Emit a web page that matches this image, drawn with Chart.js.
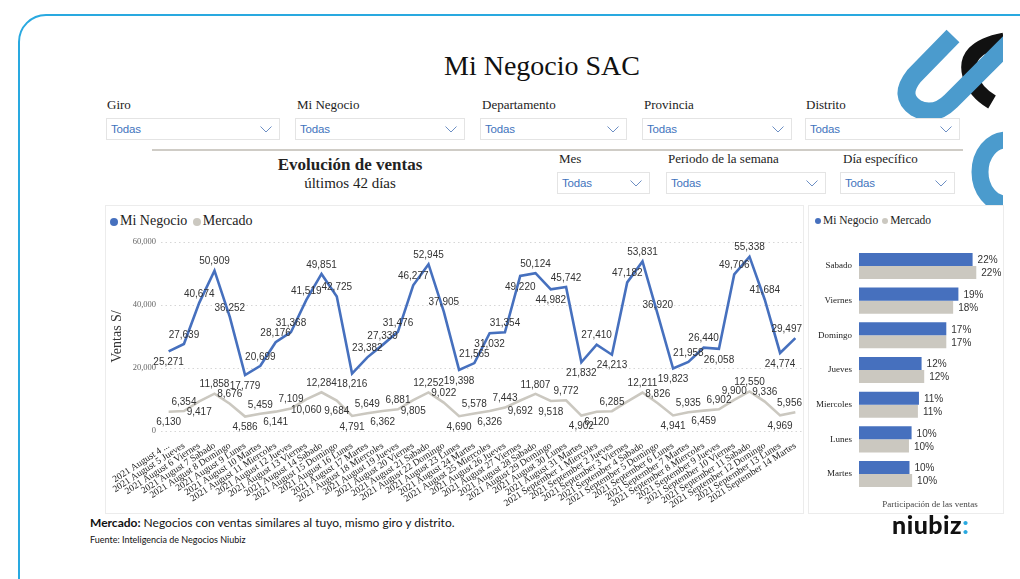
<!DOCTYPE html>
<html>
<head>
<meta charset="utf-8">
<script src="https://cdn.jsdelivr.net/npm/chart.js@4.4.0/dist/chart.umd.min.js"></script>
<style>
  html,body{margin:0;padding:0;background:#fff;}
  body{width:1020px;height:579px;position:relative;overflow:hidden;font-family:"Liberation Serif",serif;color:#222;}
  .frame{position:absolute;left:18px;top:14px;width:1100px;height:600px;border:2.5px solid #29a9e0;border-radius:28px;box-sizing:border-box;}
  .abs{position:absolute;white-space:nowrap;}
  .lbl{font-family:"Liberation Serif",serif;font-size:13px;color:#222;}
  .box{position:absolute;height:22px;border:1px solid #e4e4e4;box-sizing:border-box;background:#fff;}
  .box span{position:absolute;left:4px;top:4px;font-family:"Liberation Sans",sans-serif;font-size:11.5px;color:#3f74bd;letter-spacing:-0.2px;}
  .box svg{position:absolute;right:7px;top:7px;}
  .panel{position:absolute;border:1px solid #ececec;box-sizing:border-box;background:#fff;}
  .leg{font-family:"Liberation Serif",serif;color:#222;}
  .dot{display:inline-block;border-radius:50%;vertical-align:middle;}
</style>
</head>
<body>
<div class="frame"></div>

<svg class="abs" style="left:880px;top:20px;" width="123" height="200" viewBox="880 20 123 200">
  <path d="M 1004 40 Q 962 48 970 76 Q 975 92 992 102" fill="none" stroke="#111" stroke-width="15"/>
  <path d="M 953 36 L 914 76 Q 898 96 916 108 Q 934 118 951 101 L 1012 40" fill="none" stroke="#4b9bcd" stroke-width="18"/>
  <path d="M 1006 140 A 26 32 0 0 0 1006 204" fill="none" stroke="#4b9bcd" stroke-width="17"/>
</svg>

<div class="abs" style="left:0;width:1084px;top:50px;text-align:center;font-size:28px;font-family:'Liberation Serif',serif;color:#111;">Mi Negocio SAC</div>

<div class="abs lbl" style="left:107px;top:97px;">Giro</div>
<div class="abs lbl" style="left:297px;top:97px;">Mi Negocio</div>
<div class="abs lbl" style="left:482px;top:97px;">Departamento</div>
<div class="abs lbl" style="left:644px;top:97px;">Provincia</div>
<div class="abs lbl" style="left:806px;top:97px;">Distrito</div>

<div class="box" style="left:106px;top:118px;width:174px;"><span>Todas</span><svg width="12" height="7"><polyline points="0.5,0.5 6,6 11.5,0.5" fill="none" stroke="#6d8fc4" stroke-width="1"/></svg></div>
<div class="box" style="left:295px;top:118px;width:170px;"><span>Todas</span><svg width="12" height="7"><polyline points="0.5,0.5 6,6 11.5,0.5" fill="none" stroke="#6d8fc4" stroke-width="1"/></svg></div>
<div class="box" style="left:480px;top:118px;width:147px;"><span>Todas</span><svg width="12" height="7"><polyline points="0.5,0.5 6,6 11.5,0.5" fill="none" stroke="#6d8fc4" stroke-width="1"/></svg></div>
<div class="box" style="left:642px;top:118px;width:150px;"><span>Todas</span><svg width="12" height="7"><polyline points="0.5,0.5 6,6 11.5,0.5" fill="none" stroke="#6d8fc4" stroke-width="1"/></svg></div>
<div class="box" style="left:805px;top:118px;width:155px;"><span>Todas</span><svg width="12" height="7"><polyline points="0.5,0.5 6,6 11.5,0.5" fill="none" stroke="#6d8fc4" stroke-width="1"/></svg></div>

<div class="abs" style="left:152px;top:149px;width:811px;height:2px;background:#cfccc6;"></div>

<div class="abs" style="left:200px;width:300px;top:155px;text-align:center;font-size:17px;font-weight:bold;">Evolución de ventas</div>
<div class="abs" style="left:200px;width:300px;top:175px;text-align:center;font-size:15px;">últimos 42 días</div>

<div class="abs lbl" style="left:559px;top:151px;">Mes</div>
<div class="abs lbl" style="left:668px;top:151px;">Periodo de la semana</div>
<div class="abs lbl" style="left:843px;top:151px;">Día específico</div>

<div class="box" style="left:557px;top:172px;width:93px;"><span>Todas</span><svg width="12" height="7"><polyline points="0.5,0.5 6,6 11.5,0.5" fill="none" stroke="#6d8fc4" stroke-width="1"/></svg></div>
<div class="box" style="left:666px;top:172px;width:160px;"><span>Todas</span><svg width="12" height="7"><polyline points="0.5,0.5 6,6 11.5,0.5" fill="none" stroke="#6d8fc4" stroke-width="1"/></svg></div>
<div class="box" style="left:840px;top:172px;width:115px;"><span>Todas</span><svg width="12" height="7"><polyline points="0.5,0.5 6,6 11.5,0.5" fill="none" stroke="#6d8fc4" stroke-width="1"/></svg></div>

<div class="panel" style="left:105px;top:205px;width:699px;height:309px;"></div>
<div class="panel" style="left:808px;top:205px;width:196px;height:309px;"></div>

<div class="abs leg" style="left:110px;top:213px;font-size:14px;"><span class="dot" style="width:8px;height:8px;background:#4670be;margin-right:2px;"></span>Mi Negocio <span class="dot" style="width:8px;height:8px;background:#cbc8c0;margin:0 2px 0 2px;"></span>Mercado</div>
<div class="abs leg" style="left:815px;top:214px;font-size:11.5px;"><span class="dot" style="width:6px;height:6px;background:#4670be;margin-right:2px;"></span>Mi Negocio <span class="dot" style="width:6px;height:6px;background:#cbc8c0;margin:0 2px 0 1px;"></span>Mercado</div>

<canvas id="line" class="abs" style="left:105px;top:205px;" width="700" height="308"></canvas>
<canvas id="bar" class="abs" style="left:808px;top:205px;" width="195" height="308"></canvas>

<div class="abs" style="left:90px;top:515px;font-family:Lato,'Open Sans',sans-serif;font-size:12px;color:#111;"><b>Mercado:</b> Negocios con ventas similares al tuyo, mismo giro y distrito.</div>
<div class="abs" style="left:90px;top:534px;font-family:Lato,'Open Sans',sans-serif;font-size:9px;color:#111;">Fuente: Inteligencia de Negocios Niubiz</div>
<div class="abs" style="left:892px;top:509px;font-family:Lato,'DejaVu Sans',sans-serif;font-weight:900;font-size:25px;color:#111;letter-spacing:0.5px;">niubiz<span style="color:#29a9e0;">:</span></div>

<script>
// ---- Data ----
const days = [
  "2021 August 4 ...", "2021 August 5 Jueves", "2021 August 6 Viernes", "2021 August 7 Sabado",
  "2021 August 8 Domingo", "2021 August 9 Lunes", "2021 August 10 Martes", "2021 August 11 Miercoles",
  "2021 August 12 Jueves", "2021 August 13 Viernes", "2021 August 14 Sabado", "2021 August 15 Domingo",
  "2021 August 16 Lunes", "2021 August 17 Martes", "2021 August 18 Miercoles", "2021 August 19 Jueves",
  "2021 August 20 Viernes", "2021 August 21 Sabado", "2021 August 22 Domingo", "2021 August 23 Lunes",
  "2021 August 24 Martes", "2021 August 25 Miercoles", "2021 August 26 Jueves", "2021 August 27 Viernes",
  "2021 August 28 Sabado", "2021 August 29 Domingo", "2021 August 30 Lunes", "2021 August 31 Martes",
  "2021 September 1 Miercoles", "2021 September 2 Jueves", "2021 September 3 Viernes", "2021 September 4 Sabado",
  "2021 September 5 Domingo", "2021 September 6 Lunes", "2021 September 7 Martes", "2021 September 8 Miercoles",
  "2021 September 9 Jueves", "2021 September 10 Viernes", "2021 September 11 Sabado", "2021 September 12 Domingo",
  "2021 September 13 Lunes", "2021 September 14 Martes"
];
const miNegocio = [
  25271, 27639, 40674, 50909, 36252, 17779, 20699, 28176, 31368, 41519, 49851, 42725,
  18216, 23382, 27339, 31476, 46277, 52945, 37905, 19398, 21565, 31032, 31354, 49220,
  50124, 44982, 45742, 21832, 27410, 24213, 47182, 53831, 36920, 19823, 21958, 26440,
  26058, 49706, 55338, 41684, 24774, 29497
];
const mercado = [
  6130, 6354, 9417, 11858, 8676, 4586, 5459, 6141, 7109, 10060, 12284, 9684,
  4791, 5649, 6362, 6881, 9805, 12252, 9022, 4690, 5578, 6326, 7443, 9692,
  11807, 9518, 9772, 4902, 6120, 6285, 9300, 12211, 8826, 4941, 5935, 6459,
  6902, 9900, 12550, 9336, 4969, 5956
];
// label side per point: a = above, b = below, n = hidden
const miLabelSide = ["baaaab", "aaaaaa", "baaaaaa", "babababab", "abaaa", "baabaaaba"].join('');
const mercadoLabelSide = ["babaababab", "abbababaab", "ababababba", "naababaaaaba"].join('');
const yTicks = [0, 20000, 40000, 60000];

const weekdays = ["Sabado", "Viernes", "Domingo", "Jueves", "Miercoles", "Lunes", "Martes"];
const shareMi = [21.6, 18.9, 16.6, 11.9, 11.4, 10.0, 9.6];
const shareMercado = [22.3, 17.9, 16.6, 12.4, 11.2, 9.5, 10.1];

// ---- Helpers ----
const fmt = v => String(v).replace(/\B(?=(\d{3})+(?!\d))/g, ',');
const BLUE = '#4670be', GRAY = '#cbc8c0';

const lineLabels = {
  id: 'lineLabels',
  afterDatasetsDraw(chart) {
    const ctx = chart.ctx;
    const sides = [miLabelSide, mercadoLabelSide];
    ctx.save();
    ctx.font = '10px "Liberation Sans", sans-serif';
    ctx.fillStyle = '#333';
    ctx.textAlign = 'center';
    ctx.textBaseline = 'middle';
    chart.data.datasets.forEach((ds, di) => {
      const meta = chart.getDatasetMeta(di);
      meta.data.forEach((pt, i) => {
        const s = sides[di][i];
        if (s === 'n') return;
        const txt = fmt(ds.data[i]);
        const w = ctx.measureText(txt).width;
        const x = Math.min(pt.x, chart.width - w / 2 - 3);
        const y = s === 'a' ? pt.y - 9 : pt.y + 11;
        ctx.fillText(txt, x, y);
      });
    });
    ctx.restore();
  }
};

new Chart(document.getElementById('line'), {
  type: 'line',
  data: {
    labels: days,
    datasets: [
      { label: 'Mi Negocio', data: miNegocio, borderColor: BLUE, borderWidth: 2.6, pointRadius: 0, tension: 0, fill: false },
      { label: 'Mercado', data: mercado, borderColor: GRAY, borderWidth: 2.6, pointRadius: 0, tension: 0, fill: false }
    ]
  },
  options: {
    responsive: false, animation: false,
    layout: { padding: { top: 37, right: 2, left: 0, bottom: 0 } },
    plugins: { legend: { display: false }, tooltip: { enabled: false } },
    scales: {
      x: {
        offset: true,
        grid: { display: false }, border: { display: false },
        ticks: { autoSkip: false, maxRotation: 33, minRotation: 33, padding: 1,
                 font: { family: 'Liberation Serif', size: 9.5 }, color: '#1a1a1a' },
        afterFit(s) { s.height = 82; }
      },
      y: {
        min: 0, max: 60000,
        afterBuildTicks(s) { s.ticks = yTicks.map(v => ({ value: v })); },
        ticks: { callback: v => fmt(v), padding: 5, font: { family: 'Liberation Serif', size: 8.5 }, color: '#666' },
        grid: { color: '#d6d6d6', drawTicks: false, lineWidth: 1 },
        border: { display: false, dash: [1.5, 3] },
        title: { display: true, text: 'Ventas S/', font: { family: 'Liberation Serif', size: 14 }, color: '#333', padding: { top: 4, bottom: 0 } },
        afterFit(s) { s.width = 56; }
      }
    }
  },
  plugins: [lineLabels]
});

const barLabels = {
  id: 'barLabels',
  afterDatasetsDraw(chart) {
    const ctx = chart.ctx;
    ctx.save();
    ctx.font = '10px "Liberation Sans", sans-serif';
    ctx.fillStyle = '#333';
    ctx.textAlign = 'left';
    ctx.textBaseline = 'middle';
    chart.data.datasets.forEach((ds, di) => {
      chart.getDatasetMeta(di).data.forEach((bar, i) => {
        ctx.fillText(Math.round(ds.data[i]) + '%', bar.x + 5, bar.y + 1);
      });
    });
    ctx.restore();
  }
};

new Chart(document.getElementById('bar'), {
  type: 'bar',
  data: {
    labels: weekdays,
    datasets: [
      { label: 'Mi Negocio', data: shareMi, backgroundColor: BLUE },
      { label: 'Mercado', data: shareMercado, backgroundColor: GRAY }
    ]
  },
  options: {
    indexAxis: 'y',
    responsive: false, animation: false,
    categoryPercentage: 0.75, barPercentage: 1,
    layout: { padding: { top: 43.6, right: 2, left: 0, bottom: 0 } },
    plugins: { legend: { display: false }, tooltip: { enabled: false } },
    scales: {
      x: {
        min: 0, max: 27,
        grid: { display: false }, border: { display: false },
        ticks: { display: false },
        title: { display: true, text: 'Participación de las ventas', font: { family: 'Liberation Serif', size: 9 }, color: '#444', padding: { top: 0, bottom: 3 } },
        afterFit(s) { s.height = 21.6; }
      },
      y: {
        grid: { display: false, drawTicks: false }, border: { display: false },
        ticks: { padding: 7, font: { family: 'Liberation Serif', size: 9 }, color: '#222' },
        afterFit(s) { s.width = 51; }
      }
    }
  },
  plugins: [barLabels]
});
</script>
</body>
</html>
